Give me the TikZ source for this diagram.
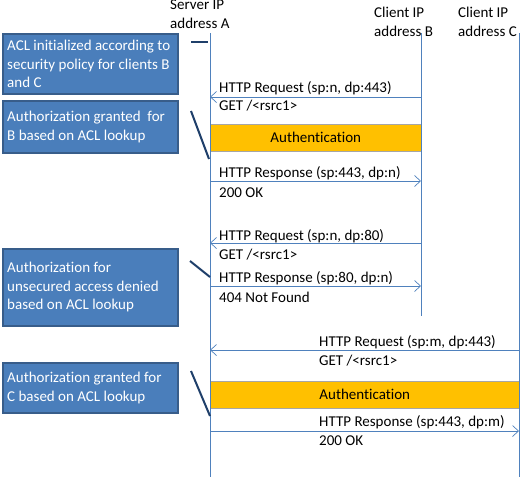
\documentclass[tikz,border=0pt]{standalone}
\usepackage{fontspec}
\setmainfont{Carlito}[Ligatures={NoCommon}]
\usetikzlibrary{arrows.meta}
\definecolor{lineblue}{HTML}{4F81BD}
\definecolor{boxblue}{HTML}{4A7EBB}
\definecolor{boxborder}{HTML}{385D8A}
\definecolor{darkconn}{HTML}{1F3F6A}
\definecolor{authfill}{HTML}{FFC000}
\tikzset{
  lifeline/.style={draw=lineblue, line width=0.9pt},
  msg/.style={draw=lineblue, line width=0.8pt, -{Straight Barb[length=6pt,width=11pt,line width=0.7pt]}},
  notebox/.style={draw=boxborder, line width=1.5pt, fill=boxblue, anchor=north west, inner sep=0pt, minimum width=175pt},
  notetext/.style={text=white, font=\fontsize{15}{18.5}\selectfont, align=left, anchor=north west, inner sep=0pt},
  conn/.style={draw=darkconn, line width=2pt},
  lbl/.style={font=\fontsize{15}{19}\selectfont, anchor=west, inner sep=0pt},
  head/.style={font=\fontsize{15}{19}\selectfont, anchor=north west, inner sep=0pt, align=left},
  authbar/.style={draw=black!35, line width=0.6pt, fill=authfill, anchor=north west, inner sep=0pt, minimum height=27pt},
  authtext/.style={font=\fontsize{15}{19}\selectfont, inner sep=0pt},
}
\begin{document}
\begin{tikzpicture}[x=1pt,y=-1pt]
\useasboundingbox (0,0) rectangle (526,477);
% headers
\node[head] (hA) at (170,0) {Server IP\\address A};
\node[head] (hB) at (374,7) {Client IP\\address B};
\node[head] (hC) at (458,7) {Client IP\\address C};
% lifelines
\coordinate (aTop) at (210,33); \coordinate (aBot) at (210,477);
\coordinate (bTop) at (421,33); \coordinate (bBot) at (421,316);
\coordinate (cTop) at (519,33); \coordinate (cBot) at (519,477);
% authentication bars
\node[authbar, minimum width=211pt] (auth1) at (210,124) {};
\node[authtext] (auth1t) at (auth1.center) {Authentication};
\node[authbar, minimum width=309pt] (auth2) at (210,381) {};
\node[authtext] (auth2t) at (auth2.center) {Authentication};
\draw[lifeline] (aTop) -- (aBot);
\draw[lifeline] (bTop) -- (bBot);
\draw[lifeline] (cTop) -- (cBot);
% notes
\node[notebox, minimum height=60pt] (n1) at (2,33) {};
\node[notetext] (n1t) at (7,40) {ACL initialized according to\\security policy for clients B\\and C};
\node[notebox, minimum height=52pt] (n2) at (2,100) {};
\node[notetext] (n2t) at (7,111) {Authorization granted\ \ for\\B based on ACL lookup};
\node[notebox, minimum height=77pt] (n3) at (2,248) {};
\node[notetext] (n3t) at (7,262) {Authorization for\\unsecured access denied\\based on ACL lookup};
\node[notebox, minimum height=50pt] (n4) at (2,362) {};
\node[notetext] (n4t) at (7,372) {Authorization granted for\\C based on ACL lookup};
% connectors from notes to lifeline
\coordinate (c1a) at (191,42); \coordinate (c1b) at (208,42);
\coordinate (c2a) at (191,111); \coordinate (c2b) at (209,159);
\coordinate (c3a) at (190,261); \coordinate (c3b) at (210,277);
\coordinate (c4a) at (191,371); \coordinate (c4b) at (210,416);
\draw[conn] (c1a) -- (c1b);
\draw[conn] (c2a) -- (c2b);
\draw[conn] (c3a) -- (c3b);
\draw[conn] (c4a) -- (c4b);
% messages
\coordinate (m1b) at (421,97); \coordinate (m1a) at (210,97);
\draw[msg] (m1b) -- (m1a);
\node[lbl] (t1) at (219,88) {HTTP Request (sp:n, dp:443)};
\node[lbl] (t1b) at (219,106) {GET /<rsrc1>};
\coordinate (m3a) at (210,181); \coordinate (m3b) at (421,181);
\draw[msg] (m3a) -- (m3b);
\node[lbl] (t3) at (219,173) {HTTP Response (sp:443, dp:n)};
\node[lbl] (t3b) at (219,193) {200 OK};
\coordinate (m4b) at (421,243); \coordinate (m4a) at (210,243);
\draw[msg] (m4b) -- (m4a);
\node[lbl] (t4) at (219,236) {HTTP Request (sp:n, dp:80)};
\node[lbl] (t4b) at (219,255) {GET /<rsrc1>};
\coordinate (m5a) at (210,286); \coordinate (m5b) at (421,286);
\draw[msg] (m5a) -- (m5b);
\node[lbl] (t5) at (219,278) {HTTP Response (sp:80, dp:n)};
\node[lbl] (t5b) at (219,297) {404 Not Found};
\coordinate (m6c) at (519,350); \coordinate (m6a) at (210,350);
\draw[msg] (m6c) -- (m6a);
\node[lbl] (t6) at (319,342) {HTTP Request (sp:m, dp:443)};
\node[lbl] (t6b) at (319,361) {GET /<rsrc1>};
\coordinate (m8a) at (210,431); \coordinate (m8c) at (519,431);
\draw[msg] (m8a) -- (m8c);
\node[lbl] (t8) at (319,422) {HTTP Response (sp:443, dp:m)};
\node[lbl] (t8b) at (319,441) {200 OK};
\end{tikzpicture}
\end{document}
